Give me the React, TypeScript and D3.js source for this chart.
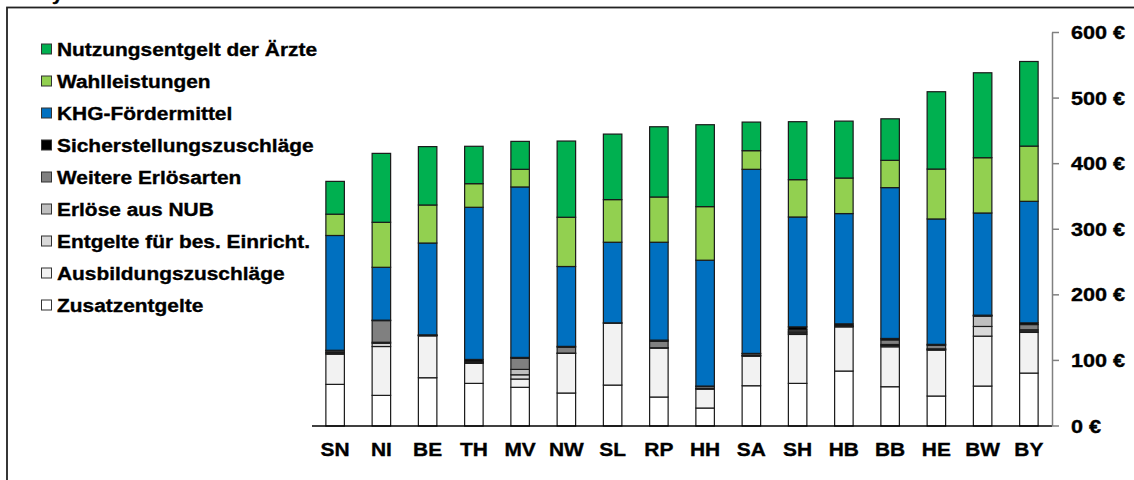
import { useEffect, useRef } from "react";
import * as d3 from "d3";

const states = ["SN", "NI", "BE", "TH", "MV", "NW", "SL", "RP", "HH", "SA", "SH", "HB", "BB", "HE", "BW", "BY"];

// values in € per case, bottom to top of each column
const zusatzentgelte = [63.5, 46.7, 73.6, 65, 59, 50.3, 62.4, 44.2, 27.4, 61.4, 65, 83.8, 59.9, 45.7, 60.9, 80.7];
const ausbildung = [46, 74.5, 63.9, 30.5, 12.6, 60.4, 94.4, 74.6, 28.9, 45.2, 74.6, 67.4, 60.9, 70, 76.1, 62];
const besEinricht = [1.5, 5, 0.5, 1, 6.5, 0.5, 0.5, 0.5, 0.5, 0.5, 2, 0.5, 2, 1, 14.8, 2];
const nub = [1, 1.5, 0, 1, 8.2, 0, 0, 0, 0.5, 0.5, 2, 0.5, 1.5, 1, 15.7, 2];
const weitere = [2.5, 33, 0.5, 1.5, 17, 9, 0, 10, 3, 2.6, 3, 1.5, 7, 5.5, 1, 8];
const sicherstellung = [1, 0.7, 0.5, 2.5, 1.3, 1.2, 0, 1.7, 0.6, 0.5, 4.6, 2.1, 2.2, 1.3, 0.5, 2.6];
const khg = [175, 80.6, 140, 232, 259.9, 121.8, 122.9, 149.2, 191.9, 280.7, 167.5, 168.1, 230, 191.2, 155.8, 185.3];
const wahlleistungen = [32.5, 68.6, 58, 36, 26.9, 75.1, 65, 69, 81.7, 28.4, 56.9, 54.2, 41.6, 76.1, 84.3, 84.2];
const nutzungsentgelt = [50, 105.1, 89, 57, 42.6, 116.2, 99.9, 107.1, 124.9, 43.6, 88.4, 86.8, 63.3, 117.9, 129.5, 129];

const seriesNames = [
  "Zusatzentgelte",
  "Ausbildungszuschläge",
  "Entgelte für bes. Einricht.",
  "Erlöse aus NUB",
  "Weitere Erlösarten",
  "Sicherstellungszuschläge",
  "KHG-Fördermittel",
  "Wahlleistungen",
  "Nutzungsentgelt der Ärzte",
];
const seriesValues = [zusatzentgelte, ausbildung, besEinricht, nub, weitere, sicherstellung, khg, wahlleistungen, nutzungsentgelt];
const seriesColors = ["#ffffff", "#f2f2f2", "#d9d9d9", "#bfbfbf", "#808080", "#000000", "#0070c0", "#92d050", "#00b050"];

const yTicks = [0, 100, 200, 300, 400, 500, 600];

const FONT = "Arial, 'Liberation Sans', sans-serif";
const SX = 1.1; // labels in the source are slightly stretched horizontally

function boldText(
  sel: d3.Selection<SVGSVGElement, unknown, null, undefined>,
  x: number,
  y: number,
  size: number,
  sx: number,
  label: string,
  anchor = "start"
) {
  return sel
    .append("text")
    .attr("transform", `translate(${x},${y}) scale(${sx},1)`)
    .attr("text-anchor", anchor)
    .attr("font-family", FONT)
    .attr("font-weight", "bold")
    .attr("font-size", size)
    .attr("fill", "#000")
    .attr("stroke", "#000")
    .attr("stroke-width", 0.35)
    .text(label);
}

export default function App() {
  const svgRef = useRef<SVGSVGElement>(null);

  useEffect(() => {
    if (!svgRef.current) return;
    const svg = d3.select(svgRef.current);
    svg.selectAll("*").remove();

    const x = d3.scaleBand<string>().domain(states).range([312, 1052]).paddingInner(0.6).paddingOuter(0.3);
    const y = d3.scaleLinear().domain([0, 600]).range([426, 32.5]);

    // frame
    svg
      .append("rect")
      .attr("x", 7)
      .attr("y", 7.5)
      .attr("width", 1140)
      .attr("height", 490)
      .attr("fill", "none")
      .attr("stroke", "#222")
      .attr("stroke-width", 1.8);

    // title above the frame, cut off by the page edge
    boldText(svg, 52, 0, 18, SX, "y");

    const rows = states.map((s, i) => {
      const row: Record<string, number | string> = { state: s };
      seriesNames.forEach((n, k) => (row[n] = seriesValues[k][i]));
      return row;
    });
    const stacked = d3.stack<Record<string, number | string>>().keys(seriesNames)(rows);

    stacked.forEach((layer, k) => {
      svg
        .append("g")
        .selectAll("rect")
        .data(layer)
        .join("rect")
        .attr("x", (d) => x(d.data.state as string)!)
        .attr("width", x.bandwidth())
        .attr("y", (d) => y(d[1]))
        .attr("height", (d) => y(d[0]) - y(d[1]))
        .attr("fill", seriesColors[k])
        .attr("stroke", "#1a1a1a")
        .attr("stroke-width", 1.2);
    });

    // x baseline
    svg
      .append("line")
      .attr("x1", 312)
      .attr("x2", 1052)
      .attr("y1", y(0))
      .attr("y2", y(0))
      .attr("stroke", "#000")
      .attr("stroke-width", 1.5);

    // x labels
    states.forEach((s) => {
      const cx = x(s)! + x.bandwidth() / 2;
      boldText(svg, cx, 456, 19, SX, s, "middle");
    });

    // right axis
    svg
      .append("line")
      .attr("x1", 1052.5)
      .attr("x2", 1052.5)
      .attr("y1", y(600))
      .attr("y2", y(0))
      .attr("stroke", "#808080")
      .attr("stroke-width", 1.5);

    yTicks.forEach((t) => {
      svg
        .append("line")
        .attr("x1", 1052)
        .attr("x2", 1059)
        .attr("y1", y(t))
        .attr("y2", y(t))
        .attr("stroke", "#808080")
        .attr("stroke-width", 1.5);
      boldText(svg, 1071, y(t) + 6.5, 18.5, 1.17, `${t} €`);
    });

    // legend, top entry is the top series
    const legendItems = [...seriesNames].reverse();
    const legendColors = [...seriesColors].reverse();
    legendItems.forEach((name, i) => {
      const cy = 49 + i * 32;
      svg
        .append("rect")
        .attr("x", 41.5)
        .attr("y", cy - 5)
        .attr("width", 10)
        .attr("height", 10)
        .attr("fill", legendColors[i])
        .attr("stroke", "#333")
        .attr("stroke-width", 1);
      boldText(svg, 57, cy + 6.5, 19, SX, name);
    });
  }, []);

  return (
    <svg
      ref={svgRef}
      width={1134}
      height={480}
      style={{ position: "absolute", left: 0, top: 0, background: "#fff" }}
    ></svg>
  );
}
